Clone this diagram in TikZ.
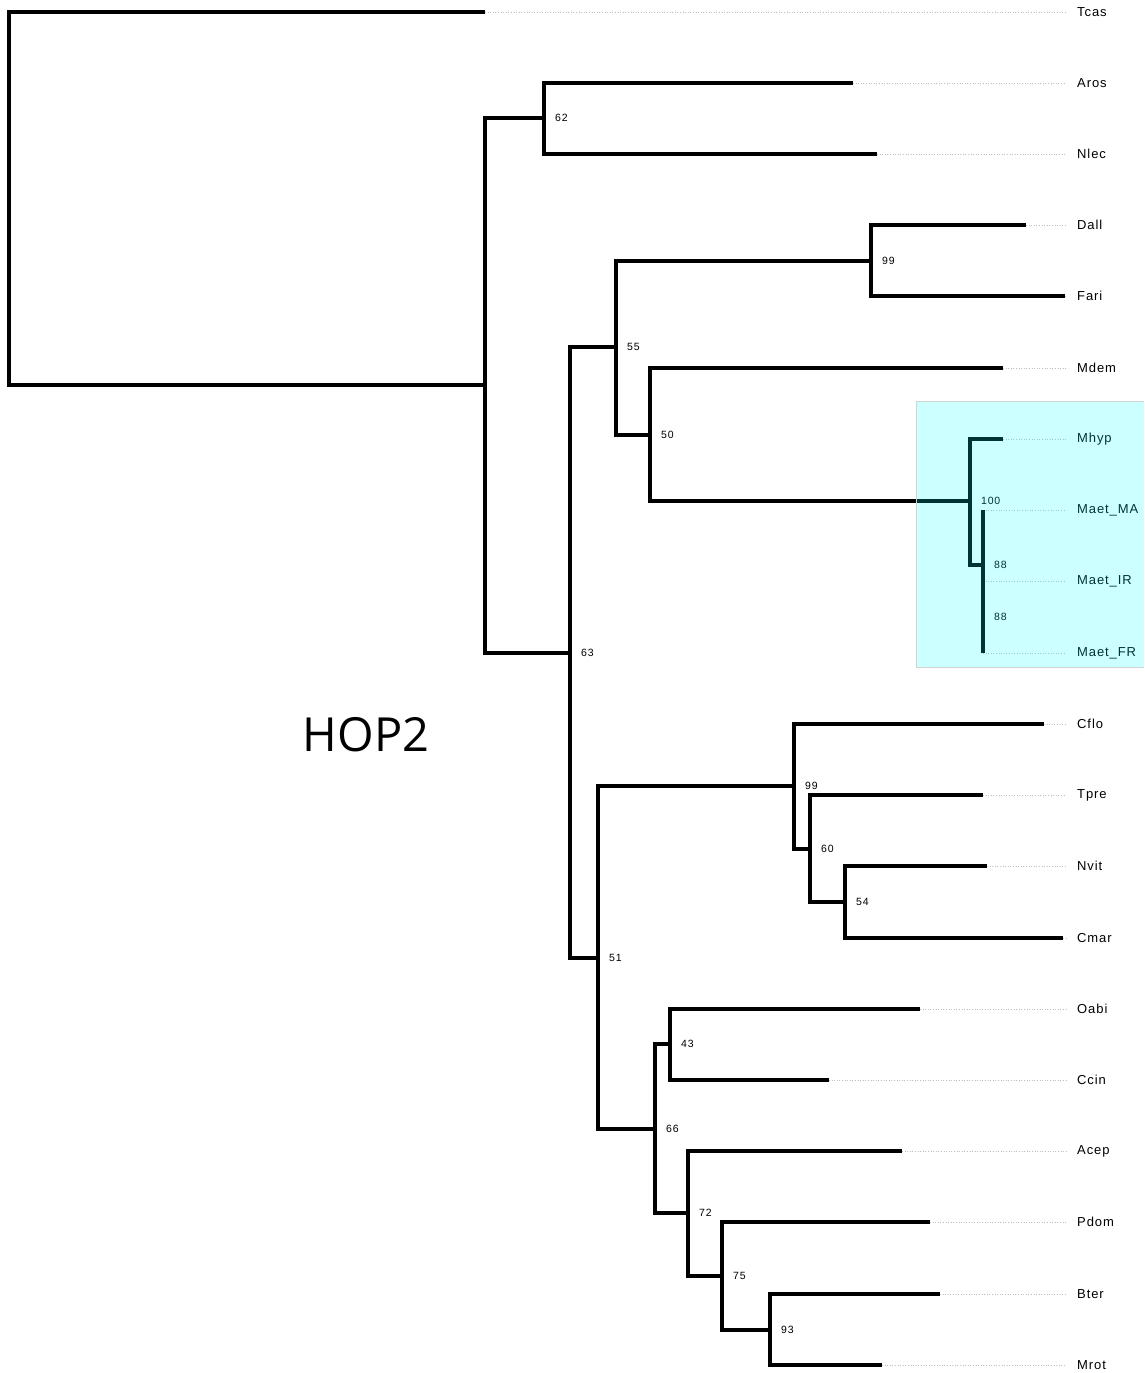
\documentclass[tikz,border=0pt]{standalone}
\usepackage{fontspec}
\setmainfont{Liberation Sans}
\newfontfamily\leaffont[LetterSpace=7]{Liberation Sans}
\newfontfamily\titlefont{Open Sans}
\definecolor{boxcyan}{RGB}{0,255,255}
\begin{document}
\begin{tikzpicture}[x=1pt,y=-1pt,
    branch/.style={line width=3.2pt,line join=miter},
    guide/.style={gray!50,line width=0.6pt,dotted,shorten >=8pt},
    leaf/.style={anchor=west,inner sep=3pt,font=\leaffont\fontsize{13}{13}\selectfont},
    boot/.style={anchor=west,inner sep=2pt,xshift=9pt,font=\leaffont\fontsize{10.5}{10.5}\selectfont},
    title/.style={font=\titlefont\fontsize{47}{47}\selectfont}]
  \useasboundingbox (0,0) rectangle (1144,1373);
  % internal nodes
  \coordinate (root) at (9,384);
  \coordinate (nA)   at (485,385);
  \coordinate (n62)  at (544,118);
  \coordinate (n63)  at (570,653);
  \coordinate (n55)  at (616,347);
  \coordinate (n99a) at (871,261);
  \coordinate (n50)  at (650,435);
  \coordinate (n100) at (970,501);
  \coordinate (n88)  at (983,565);
  \coordinate (n88b) at (983,617);
  \coordinate (n51)  at (598,958);
  \coordinate (n99b) at (794,786);
  \coordinate (n60)  at (810,849);
  \coordinate (n54)  at (845,902);
  \coordinate (n66)  at (655,1129);
  \coordinate (n43)  at (670,1044);
  \coordinate (n72)  at (688,1213);
  \coordinate (n75)  at (722,1276);
  \coordinate (n93)  at (770,1330);
  % leaves: tips, names, dotted guides
  \foreach \n/\t/\x/\y in {Tcas/Tcas/485/12, Aros/Aros/853/83, Nlec/Nlec/877/154,
      Dall/Dall/1026/225, Fari/Fari/1065/296, Mdem/Mdem/1003/368,
      Mhyp/Mhyp/1003/439, MaetMA/Maet\_MA/983/510, MaetIR/Maet\_IR/983/581,
      MaetFR/Maet\_FR/983/653, Cflo/Cflo/1044/724, Tpre/Tpre/983/795,
      Nvit/Nvit/987/866, Cmar/Cmar/1063/938, Oabi/Oabi/920/1009,
      Ccin/Ccin/829/1080, Acep/Acep/902/1151, Pdom/Pdom/930/1222,
      Bter/Bter/940/1294, Mrot/Mrot/882/1365} {
    \coordinate (t\n) at (\x,\y);
    \node[leaf] (\n) at (1074,\y) {\t};
    \draw[guide] (t\n) -- (\n.west);
  }
  % branches
  \foreach \p/\c in {root/tTcas, root/nA, nA/n62, nA/n63, n62/tAros, n62/tNlec,
      n63/n55, n63/n51, n55/n99a, n55/n50, n99a/tDall, n99a/tFari,
      n50/tMdem, n50/n100, n100/tMhyp, n100/n88, n88/tMaetMA, n88/tMaetFR,
      n51/n99b, n51/n66, n99b/tCflo, n99b/n60, n60/tTpre, n60/n54,
      n54/tNvit, n54/tCmar, n66/n43, n66/n72, n43/tOabi, n43/tCcin,
      n72/tAcep, n72/n75, n75/tPdom, n75/n93, n93/tBter, n93/tMrot} {
    \draw[branch] (\p) |- (\c);
  }
  % support values
  \foreach \n/\v in {n62/62, n63/63, n55/55, n99a/99, n50/50, n100/100,
      n88/88, n88b/88, n51/51, n99b/99, n60/60, n54/54, n66/66, n43/43,
      n72/72, n75/75, n93/93} {
    \node[boot] (b\n) at (\n) {\v};
  }
  % highlighted clade
  \fill[boxcyan,fill opacity=0.2] (916,401) rectangle (1144,667);
  \draw[gray!35,line width=0.8pt] (1144,401) -- (916,401) -- (916,667) -- (1144,667);
  \node[title] (hop) at (366,735) {HOP2};
\end{tikzpicture}
\end{document}
